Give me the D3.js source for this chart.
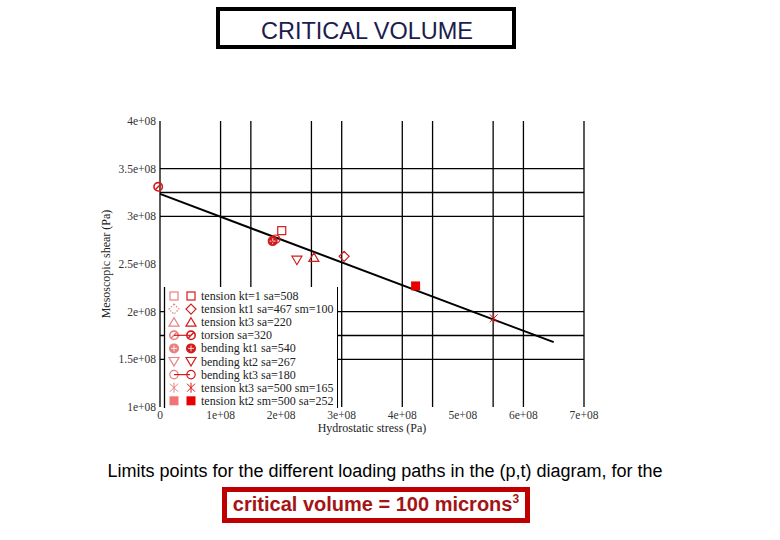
<!DOCTYPE html>
<html><head><meta charset="utf-8">
<script src="https://cdn.jsdelivr.net/npm/d3@7"></script>
<style>body{margin:0;background:#fff}svg{display:block}</style>
</head><body>
<script>
// ---- data ----
const seriesNames = ["tension kt=1 sa=508","tension kt1 sa=467 sm=100","tension kt3 sa=220","torsion sa=320","bending kt1 sa=540","bending kt2 sa=267","bending kt3 sa=180","tension kt3 sa=500 sm=165","tension kt2 sm=500 sa=252"];
const seriesSymbols = ["square","diamond","triangle","slashcircle","hatchcircle","triangledown","opencircle","asterisk","filledsquare"];
const pointP = [2.01e8, 3.04e8, 2.54e8, -0.03e8, 1.86e8, 2.26e8, 1.91e8, 5.51e8, 4.22e8];
const pointT = [2.85e8, 2.58e8, 2.57e8, 3.31e8, 2.74e8, 2.54e8, 2.76e8, 1.93e8, 2.27e8];
const fitP = [0, 6.5e8];
const fitT = [3.235e8, 1.68e8];
const xTicks = [0,1e8,2e8,3e8,4e8,5e8,6e8,7e8];
const xTickLabels = ["0","1e+08","2e+08","3e+08","4e+08","5e+08","6e+08","7e+08"];
const yTicks = [1e8,1.5e8,2e8,2.5e8,3e8,3.5e8,4e8];
const yTickLabels = ["1e+08","1.5e+08","2e+08","2.5e+08","3e+08","3.5e+08","4e+08"];
const gridX = [1e8,1.5e8,2.5e8,3e8,4e8,4.5e8,5.5e8,6e8,7e8];
const gridY = [3.5e8,3.25e8,3e8,2e8,1.75e8,1.5e8];

const W=780,H=540;
const svg=d3.select("body").append("svg").attr("width",W).attr("height",H);
const x=d3.scaleLinear().domain([0,7e8]).range([160,584]);
const y=d3.scaleLinear().domain([1e8,4e8]).range([407,121]);
const RED="#d41a1a";
const sans="Liberation Sans, Arial, sans-serif";

// title box
svg.append("rect").attr("x",218).attr("y",9).attr("width",296).attr("height",38).attr("fill","#fff").attr("stroke","#000").attr("stroke-width",4);
svg.append("text").attr("x",367).attr("y",39).attr("text-anchor","middle").attr("font-family",sans).attr("font-size",23.5).attr("fill","#1c1c4e").text("CRITICAL VOLUME");

// grid
const g=svg.append("g");
g.selectAll(".gx").data(gridX).join("line").attr("x1",d=>x(d)).attr("x2",d=>x(d)).attr("y1",y(4e8)).attr("y2",y(1e8)).attr("stroke","#000").attr("stroke-width",1.3);
g.selectAll(".gy").data(gridY).join("line").attr("x1",x(0)).attr("x2",x(7e8)).attr("y1",d=>y(d)).attr("y2",d=>y(d)).attr("stroke","#000").attr("stroke-width",1.3);
g.append("line").attr("x1",x(0)).attr("x2",x(0)).attr("y1",y(4e8)).attr("y2",y(1e8)).attr("stroke","#000").attr("stroke-width",1.3);

// axes labels
const serif="Liberation Serif, Times New Roman, serif";
svg.append("g").selectAll("text").data(xTicks).join("text").attr("x",d=>x(d)).attr("y",419).attr("text-anchor","middle").attr("font-family",serif).attr("font-size",11.5).attr("fill","#333").text((d,i)=>xTickLabels[i]);
svg.append("g").selectAll("text").data(yTicks).join("text").attr("x",156).attr("y",d=>y(d)+4).attr("text-anchor","end").attr("font-family",serif).attr("font-size",11.5).attr("fill","#333").text((d,i)=>yTickLabels[i]);
svg.append("text").attr("x",372).attr("y",432).attr("text-anchor","middle").attr("font-family",serif).attr("font-size",12).attr("fill","#222").text("Hydrostatic stress (Pa)");
svg.append("text").attr("transform","translate(110,264) rotate(-90)").attr("text-anchor","middle").attr("font-family",serif).attr("font-size",12).attr("fill","#222").text("Mesoscopic shear (Pa)");

// fit line
svg.append("line").attr("x1",x(fitP[0])).attr("y1",y(fitT[0])).attr("x2",x(fitP[1])).attr("y2",y(fitT[1])).attr("stroke","#000").attr("stroke-width",2);

// marker drawer
function marker(sel,type,cx,cy,color,op){
  const m=sel.append("g").attr("transform",`translate(${cx},${cy})`).attr("opacity",op);
  const s=1.2;
  if(type==="square") m.append("rect").attr("x",-4).attr("y",-4).attr("width",8).attr("height",8).attr("fill","none").attr("stroke",color).attr("stroke-width",s);
  else if(type==="filledsquare") m.append("rect").attr("x",-4.5).attr("y",-4.5).attr("width",9).attr("height",9).attr("fill","#e80000");
  else if(type==="diamond") m.append("path").attr("d","M0,-5L5,0L0,5L-5,0Z").attr("fill","none").attr("stroke",color).attr("stroke-width",s).attr("stroke-dasharray",op<1?"1.5,1.5":null);
  else if(type==="triangle") m.append("path").attr("d","M0,-4.5L5,4L-5,4Z").attr("fill","none").attr("stroke",color).attr("stroke-width",s);
  else if(type==="triangledown") m.append("path").attr("d","M0,4.5L5,-4L-5,-4Z").attr("fill","none").attr("stroke",color).attr("stroke-width",s);
  else if(type==="slashcircle"){ m.append("circle").attr("r",4.2).attr("fill","none").attr("stroke",color).attr("stroke-width",1.6); m.append("line").attr("x1",-3).attr("y1",3).attr("x2",3).attr("y2",-3).attr("stroke",color).attr("stroke-width",1.6);}
  else if(type==="hatchcircle"){ m.append("circle").attr("r",5).attr("fill",color); m.append("line").attr("x1",-3).attr("x2",3).attr("stroke","#fff").attr("stroke-width",0.8); m.append("line").attr("y1",-3).attr("y2",3).attr("stroke","#fff").attr("stroke-width",0.8);}
  else if(type==="opencircle"){ m.append("circle").attr("r",4.2).attr("fill","none").attr("stroke",color).attr("stroke-width",1.2);}
  else if(type==="asterisk"){ m.append("path").attr("d","M-4,-4L4,4M-4,4L4,-4M0,-5V5").attr("stroke",color).attr("stroke-width",1);}
}

// legend
const lg=svg.append("g");
lg.append("rect").attr("x",164).attr("y",287).attr("width",174).attr("height",121).attr("fill","#fff");
lg.append("line").attr("x1",164.5).attr("x2",164.5).attr("y1",287).attr("y2",408).attr("stroke","#000").attr("stroke-width",1.3);
lg.append("line").attr("x1",337.5).attr("x2",337.5).attr("y1",287).attr("y2",408).attr("stroke","#000").attr("stroke-width",1);
seriesNames.forEach((n,i)=>{
  const yy=296+i*13.1;
  if(seriesSymbols[i]==="slashcircle"||seriesSymbols[i]==="opencircle")
    lg.append("line").attr("x1",174).attr("x2",190).attr("y1",yy).attr("y2",yy).attr("stroke",RED).attr("stroke-width",1.2);
  marker(lg,seriesSymbols[i],174,yy,RED,0.55);
  marker(lg,seriesSymbols[i],191,yy,RED,1);
  lg.append("text").attr("x",201).attr("y",yy+4).attr("font-family",serif).attr("font-size",12).attr("fill","#222").text(n);
});

// points
const pg=svg.append("g");
pointP.forEach((p,i)=>marker(pg,seriesSymbols[i],x(p),y(pointT[i]),RED,1));

// caption
svg.append("text").attr("x",385).attr("y",477).attr("text-anchor","middle").attr("font-family",sans).attr("font-size",18).attr("fill","#000").text("Limits points for the different loading paths in the (p,t) diagram, for the");
svg.append("rect").attr("x",224.5).attr("y",489.5).attr("width",303).attr("height",31).attr("fill","#fff").attr("stroke","#c00000").attr("stroke-width",5);
const t2=svg.append("text").attr("x",376).attr("y",511).attr("text-anchor","middle").attr("font-family",sans).attr("font-weight","bold").attr("font-size",20).attr("fill","#a51414");
t2.append("tspan").text("critical volume = 100 microns");
t2.append("tspan").attr("dy",-8).attr("font-size",12).text("3");
</script>
</body></html>
